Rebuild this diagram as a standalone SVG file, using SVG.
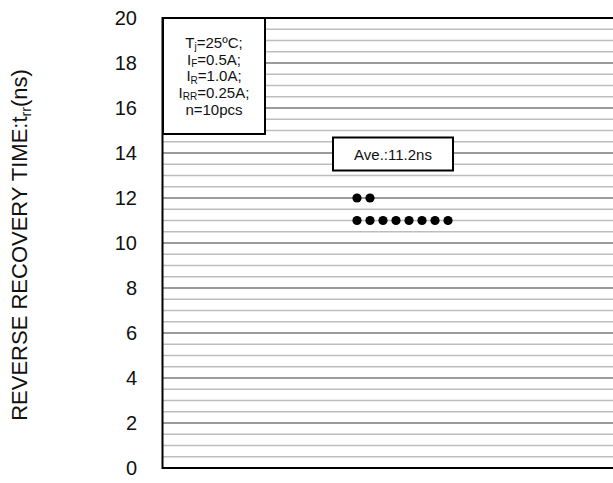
<svg xmlns="http://www.w3.org/2000/svg" width="613" height="483" viewBox="0 0 613 483">
<style>
.minor{stroke:#bdbdbd;stroke-width:1.3}
.major{stroke:#7a7a7a;stroke-width:1.3}
.frame{stroke:#000;stroke-width:2}
.tick{font-family:"Liberation Sans",Arial,sans-serif;font-size:20px;fill:#111;text-anchor:end}
.lbl{font-family:"Liberation Sans",Arial,sans-serif;font-size:15px;fill:#111;text-anchor:middle}
.sub{font-size:10px}
.box{fill:#fff;stroke:#000;stroke-width:2}
.dot{fill:#000}
</style>
<rect width="613" height="483" fill="#fff"/>
<g id="grid">
<line class="minor" x1="162" y1="29.25" x2="613" y2="29.25"/>
<line class="minor" x1="162" y1="40.5" x2="613" y2="40.5"/>
<line class="minor" x1="162" y1="51.75" x2="613" y2="51.75"/>
<line class="major" x1="162" y1="63" x2="613" y2="63"/>
<line class="minor" x1="162" y1="74.25" x2="613" y2="74.25"/>
<line class="minor" x1="162" y1="85.5" x2="613" y2="85.5"/>
<line class="minor" x1="162" y1="96.75" x2="613" y2="96.75"/>
<line class="major" x1="162" y1="108" x2="613" y2="108"/>
<line class="minor" x1="162" y1="119.25" x2="613" y2="119.25"/>
<line class="minor" x1="162" y1="130.5" x2="613" y2="130.5"/>
<line class="minor" x1="162" y1="141.75" x2="613" y2="141.75"/>
<line class="major" x1="162" y1="153" x2="613" y2="153"/>
<line class="minor" x1="162" y1="164.25" x2="613" y2="164.25"/>
<line class="minor" x1="162" y1="175.5" x2="613" y2="175.5"/>
<line class="minor" x1="162" y1="186.75" x2="613" y2="186.75"/>
<line class="major" x1="162" y1="198" x2="613" y2="198"/>
<line class="minor" x1="162" y1="209.25" x2="613" y2="209.25"/>
<line class="minor" x1="162" y1="220.5" x2="613" y2="220.5"/>
<line class="minor" x1="162" y1="231.75" x2="613" y2="231.75"/>
<line class="major" x1="162" y1="243" x2="613" y2="243"/>
<line class="minor" x1="162" y1="254.25" x2="613" y2="254.25"/>
<line class="minor" x1="162" y1="265.5" x2="613" y2="265.5"/>
<line class="minor" x1="162" y1="276.75" x2="613" y2="276.75"/>
<line class="major" x1="162" y1="288" x2="613" y2="288"/>
<line class="minor" x1="162" y1="299.25" x2="613" y2="299.25"/>
<line class="minor" x1="162" y1="310.5" x2="613" y2="310.5"/>
<line class="minor" x1="162" y1="321.75" x2="613" y2="321.75"/>
<line class="major" x1="162" y1="333" x2="613" y2="333"/>
<line class="minor" x1="162" y1="344.25" x2="613" y2="344.25"/>
<line class="minor" x1="162" y1="355.5" x2="613" y2="355.5"/>
<line class="minor" x1="162" y1="366.75" x2="613" y2="366.75"/>
<line class="major" x1="162" y1="378" x2="613" y2="378"/>
<line class="minor" x1="162" y1="389.25" x2="613" y2="389.25"/>
<line class="minor" x1="162" y1="400.5" x2="613" y2="400.5"/>
<line class="minor" x1="162" y1="411.75" x2="613" y2="411.75"/>
<line class="major" x1="162" y1="423" x2="613" y2="423"/>
<line class="minor" x1="162" y1="434.25" x2="613" y2="434.25"/>
<line class="minor" x1="162" y1="445.5" x2="613" y2="445.5"/>
<line class="minor" x1="162" y1="456.75" x2="613" y2="456.75"/>
<line class="frame" x1="162" y1="18" x2="613" y2="18"/>
<line class="frame" x1="162" y1="468" x2="613" y2="468"/>
<line class="frame" x1="162.5" y1="17" x2="162.5" y2="469"/>
</g>
<g id="ticks">
<text class="tick" x="137" y="25">20</text>
<text class="tick" x="137" y="70">18</text>
<text class="tick" x="137" y="115">16</text>
<text class="tick" x="137" y="160">14</text>
<text class="tick" x="137" y="205">12</text>
<text class="tick" x="137" y="250">10</text>
<text class="tick" x="137" y="295">8</text>
<text class="tick" x="137" y="340">6</text>
<text class="tick" x="137" y="385">4</text>
<text class="tick" x="137" y="430">2</text>
<text class="tick" x="137" y="475">0</text>
</g>
<g id="axis-label">
<text transform="translate(27,245) rotate(-90)" font-family="Liberation Sans,Arial,sans-serif" font-size="22" fill="#111" text-anchor="middle">REVERSE RECOVERY TIME:t<tspan font-size="14" dy="4">rr</tspan><tspan dy="-4">(ns)</tspan></text>
</g>
<g id="conditions">
<rect class="box" x="163" y="18" width="102" height="116"/>
<text class="lbl" x="214" y="47.5">T<tspan class="sub" dy="2.5">j</tspan><tspan dy="-2.5">=25ºC;</tspan></text>
<text class="lbl" x="214" y="64.5">I<tspan class="sub" dy="2.5">F</tspan><tspan dy="-2.5">=0.5A;</tspan></text>
<text class="lbl" x="214" y="81">I<tspan class="sub" dy="2.5">R</tspan><tspan dy="-2.5">=1.0A;</tspan></text>
<text class="lbl" x="214" y="97.5">I<tspan class="sub" dy="2.5">RR</tspan><tspan dy="-2.5">=0.25A;</tspan></text>
<text class="lbl" x="214" y="115">n=10pcs</text>
</g>
<g id="average">
<rect class="box" x="333" y="137.5" width="120" height="33"/>
<text class="lbl" x="393" y="160">Ave.:11.2ns</text>
</g>
<g id="points">
<circle class="dot" cx="357" cy="198" r="4.6"/>
<circle class="dot" cx="370" cy="198" r="4.6"/>
<circle class="dot" cx="357" cy="220.5" r="4.6"/>
<circle class="dot" cx="370" cy="220.5" r="4.6"/>
<circle class="dot" cx="383" cy="220.5" r="4.6"/>
<circle class="dot" cx="396" cy="220.5" r="4.6"/>
<circle class="dot" cx="409" cy="220.5" r="4.6"/>
<circle class="dot" cx="422" cy="220.5" r="4.6"/>
<circle class="dot" cx="435" cy="220.5" r="4.6"/>
<circle class="dot" cx="448" cy="220.5" r="4.6"/>
</g>
</svg>
